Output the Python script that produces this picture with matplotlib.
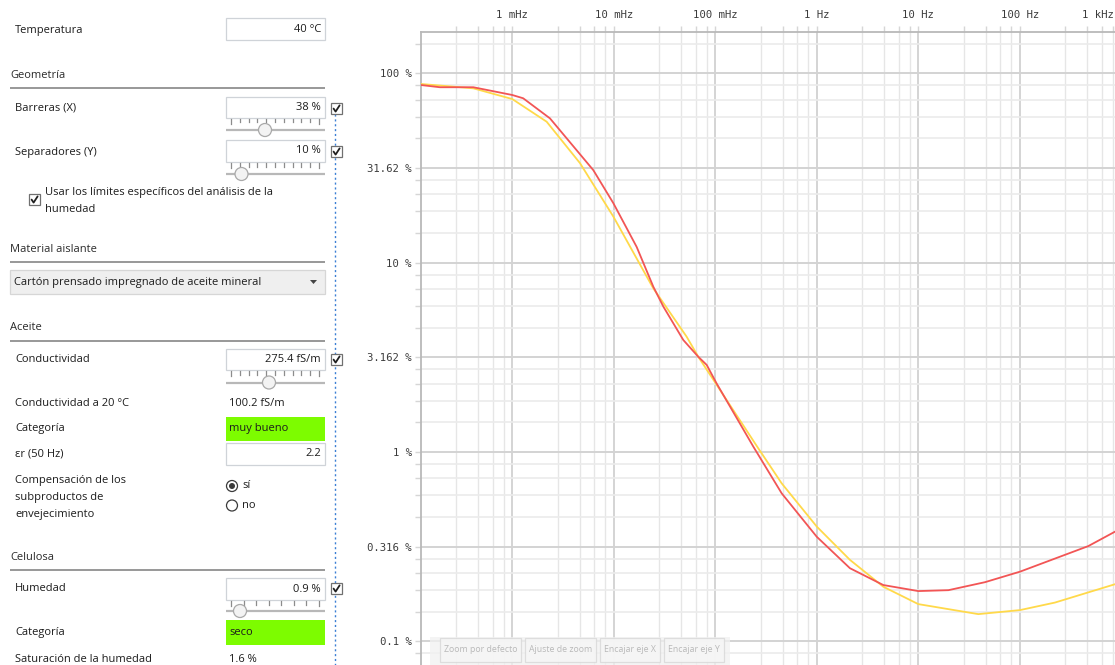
import numpy as np
import matplotlib
matplotlib.use("Agg")
import matplotlib.pyplot as plt
from matplotlib.patches import Rectangle, Circle, Polygon
from matplotlib.ticker import FixedLocator, FixedFormatter, NullFormatter

W, H = 1115, 665

# ---- dissipation factor curves: frequency (Hz) vs. value (%) ----
freq_measured = [1.26e-4, 1.94e-4, 4.13e-4, 1.0e-3, 1.28e-3, 2.35e-3, 6.28e-3, 9.9e-3,
                 1.68e-2, 2.45e-2, 3.08e-2, 4.84e-2, 6.8e-2, 8.23e-2, 0.103, 0.237,
                 0.451, 1.0, 2.12, 4.52, 10.0, 19.8, 45.4, 100.5, 473.0, 867.0]
pct_measured = [86.7, 84.4, 84.4, 76.8, 73.8, 57.8, 30.8, 20.6,
                12.1, 7.46, 5.85, 3.90, 3.18, 2.88, 2.30, 1.066,
                0.604, 0.356, 0.243, 0.198, 0.184, 0.186, 0.205, 0.233, 0.318, 0.379]

freq_model = [1.26e-4, 4.13e-4, 1.0e-3, 2.18e-3, 4.65e-3, 9.9e-3, 2.45e-2, 5.22e-2,
              6.8e-2, 0.265, 0.451, 1.0, 2.12, 4.52, 10.0, 39.0, 100.5, 222.0, 867.0]
pct_model = [87.8, 83.3, 73.1, 55.5, 33.5, 17.5, 7.31, 4.06,
             3.18, 1.045, 0.682, 0.403, 0.269, 0.194, 0.157, 0.139, 0.146, 0.160, 0.200]

freq_ticks = [1e-3, 1e-2, 1e-1, 1.0, 10.0, 100.0, 1000.0]
freq_labels = ["1 mHz", "10 mHz", "100 mHz", "1 Hz", "10 Hz", "100 Hz", "1 kHz"]
pct_ticks = [0.1, 0.3162, 1.0, 3.162, 10.0, 31.62, 100.0]
pct_labels = ["0.1 %", "0.316 %", "1 %", "3.162 %", "10 %", "31.62 %", "100 %"]

RED = "#f25555"
YELLOW = "#ffd94a"
UI_FONT = "Open Sans"
MONO = "DejaVu Sans Mono"
FS = 8.0
TXT = "#1c1c1c"
TICK_TXT = "#3c3c3c"

fig = plt.figure(figsize=(W / 100, H / 100), dpi=100)
fig.patch.set_facecolor("white")

# ---- chart area (extends past the right and bottom edges of the canvas) ----
x_left, x_right = 421.0, 1215.0
y_top, y_bot = 31.7, 760.0
ax = fig.add_axes([x_left / W, 1 - y_bot / H, (x_right - x_left) / W, (y_bot - y_top) / H])
dec_px, f1m_px = 101.5, 512.3
yd_px, p100_px = 189.3, 73.3
ax.set_xscale("log")
ax.set_yscale("log")
ax.set_xlim(10 ** (-3 + (x_left - f1m_px) / dec_px), 10 ** (-3 + (x_right - f1m_px) / dec_px))
ax.set_ylim(10 ** (2 - (y_bot - p100_px) / yd_px), 10 ** (2 + (p100_px - y_top) / yd_px))

ax.plot(freq_model, pct_model, color=YELLOW, lw=1.3, zorder=3, solid_joinstyle="round")
ax.plot(freq_measured, pct_measured, color=RED, lw=1.3, zorder=4, solid_joinstyle="round")

# major ticks at decades (x) and half decades (y); minor ticks split each step into 5 linear parts
x_major = [10.0 ** k for k in range(-4, 5)]
x_minor = [d * m for d in x_major[:-1] for m in (2.8, 4.6, 6.4, 8.2)]
y_major = [10.0 ** (k / 2) for k in range(-4, 6)]
y_minor = [a + i * (b - a) / 5 for a, b in zip(y_major[:-1], y_major[1:]) for i in range(1, 5)]

# the last frequency label sits at the canvas edge, so it is drawn separately below
ax.xaxis.set_major_locator(FixedLocator(freq_ticks))
ax.xaxis.set_major_formatter(FixedFormatter(freq_labels[:-1] + [""]))
ax.xaxis.set_minor_locator(FixedLocator(x_minor))
ax.xaxis.set_minor_formatter(NullFormatter())
ax.yaxis.set_major_locator(FixedLocator(pct_ticks))
ax.yaxis.set_major_formatter(FixedFormatter(pct_labels))
ax.yaxis.set_minor_locator(FixedLocator(y_minor))
ax.yaxis.set_minor_formatter(NullFormatter())
ax.xaxis.set_ticks_position("top")
ax.xaxis.set_label_position("top")

ax.grid(which="major", axis="x", color="#c9c9c9", lw=1.1)
ax.grid(which="minor", axis="x", color="#e6e6e6", lw=1.0)
ax.grid(which="major", axis="y", color="#d3d3d3", lw=1.4)
ax.grid(which="minor", axis="y", color="#ebebeb", lw=1.2)
ax.set_axisbelow(True)
ax.tick_params(which="both", direction="out", length=4, color="#d6d6d6", width=1.0)
ax.tick_params(axis="x", which="major", pad=4.7, labelsize=7.7, labelcolor=TICK_TXT)
ax.tick_params(axis="y", which="major", pad=2.7, labelsize=7.7, labelcolor=TICK_TXT)
for lab in ax.get_xticklabels() + ax.get_yticklabels():
    lab.set_family(MONO)
ax.annotate(freq_labels[-1], xy=(freq_ticks[-1], 1.0), xycoords=("data", "axes fraction"),
            xytext=(-5, 12), textcoords="offset points", ha="right", va="center",
            fontsize=7.7, color=TICK_TXT, family=MONO, annotation_clip=False)
for side in ("right", "bottom"):
    ax.spines[side].set_visible(False)
for side in ("left", "top"):
    ax.spines[side].set_color("#b9b9b9")
    ax.spines[side].set_linewidth(1.3)

# ---- settings panel drawn in pixel coordinates ----
ov = fig.add_axes([0, 0, 1, 1], zorder=10)
ov.set_xlim(0, W)
ov.set_ylim(H, 0)
ov.axis("off")
ov.patch.set_visible(False)


def label(x, y, s, size=FS, color=TXT, **kw):
    ov.text(x, y, s, ha=kw.pop("ha", "left"), va="center", fontsize=size, color=color,
            family=UI_FONT, **kw)


def header(y, s, line_y):
    label(10, y, s, color="#2a2a2a")
    ov.plot([10, 325], [line_y, line_y], color="#7c7c7c", lw=1.1, solid_capstyle="butt")


def textbox(y0, y1, value, x0=226, x1=325):
    ov.add_patch(Rectangle((x0, y0), x1 - x0, y1 - y0, fc="white", ec="#cfd3d8", lw=0.9))
    label(x1 - 4, (y0 + y1) / 2, value, ha="right")


def greenbox(y0, y1, value, x0=226, x1=325):
    ov.add_patch(Rectangle((x0, y0), x1 - x0, y1 - y0, fc="#7dfc00", ec="none"))
    label(x0 + 3, (y0 + y1) / 2, value)


def checkbox(x, y):
    ov.add_patch(Rectangle((x, y), 11, 11, fc="white", ec="#707070", lw=0.9, zorder=4))
    ov.plot([x + 2.6, x + 4.6, x + 8.6], [y + 5.6, y + 8.6, y + 2.4], color="#202020",
            lw=1.3, zorder=5, solid_capstyle="round")


def slider(tick_y, track_y, thumb_x, n, x0=226, x1=325):
    xs = np.linspace(x0 + 5, x1 - 6, n)
    for i, xt in enumerate(xs):
        tall = 5 if i in (0, n - 1) else 3.5
        ov.plot([xt, xt], [tick_y, tick_y + tall], color="#8c8c8c", lw=0.9)
    ov.plot([x0, x1], [track_y, track_y], color="#b8b8b8", lw=1.6, solid_capstyle="butt")
    ov.add_patch(Circle((thumb_x, track_y), 6.5, fc="#f3f3f3", ec="#a9a9a9", lw=0.9, zorder=4))


def radio(x, y, selected):
    ov.add_patch(Circle((x, y), 5.5, fc="white", ec="#3a3a3a", lw=0.9))
    if selected:
        ov.add_patch(Circle((x, y), 3.0, fc="#3a3a3a", ec="none"))


# link line joining the enabled parameters
ov.plot([335, 335], [114, 665], color="#3b7fd4", lw=1.0, ls=(0, (1.5, 2.0)))

label(15, 30, "Temperatura")
textbox(18, 40, "40 °C")

header(76, "Geometría", 88)
label(15, 108, "Barreras (X)")
textbox(96.5, 118, "38 %")
checkbox(331, 103)
slider(118.5, 130, 265, 11)
label(15, 152, "Separadores (Y)")
textbox(140, 161.5, "10 %")
checkbox(331, 146)
slider(163, 174, 241.5, 11)
checkbox(29, 194)
label(45, 192, "Usar los límites específicos del análisis de la")
label(45, 209, "humedad")

header(250, "Material aislante", 262)
ov.add_patch(Rectangle((10, 270), 315, 23.5, fc="#efefef", ec="#d6d6d6", lw=0.9))
label(14, 282, "Cartón prensado impregnado de aceite mineral")
ov.add_patch(Polygon([[310, 280], [317, 280], [313.5, 284]], closed=True, fc="#444444", ec="none"))

header(328, "Aceite", 340.5)
label(15, 359, "Conductividad")
textbox(348.5, 370, "275.4 fS/m")
checkbox(331, 354)
slider(371, 382.5, 269, 11)
label(15, 403, "Conductividad a 20 °C")
label(229, 403, "100.2 fS/m")
label(15, 429, "Categoría")
greenbox(417, 440.5, "muy bueno")
label(15, 454, "εr (50 Hz)")
textbox(443, 465, "2.2")
label(15, 481, "Compensación de los")
label(15, 497.5, "subproductos de")
label(15, 514, "envejecimiento")
radio(232, 486, True)
label(242, 486, "sí")
radio(232, 505.5, False)
label(242, 505.5, "no")

header(557, "Celulosa", 570)
label(15, 588.5, "Humedad")
textbox(578, 600, "0.9 %")
checkbox(331, 583)
slider(601, 611, 240, 8)
label(15, 633, "Categoría")
greenbox(620, 645, "seco")
label(15, 659.5, "Saturación de la humedad")
label(229, 659.5, "1.6 %")

# zoom toolbar floating over the chart
ov.add_patch(Rectangle((430, 636.5), 300, 40, fc="#f1f1f1", ec="none", alpha=0.75, zorder=6))
buttons = [("Zoom por defecto", 440, 520.5), ("Ajuste de zoom", 525, 595.5),
           ("Encajar eje X", 600, 660), ("Encajar eje Y", 663.5, 723.5)]
for text, bx0, bx1 in buttons:
    ov.add_patch(Rectangle((bx0, 638), bx1 - bx0, 23.5, fc="#f6f6f6", ec="#d9d9d9",
                           lw=0.9, alpha=0.85, zorder=7))
    ov.text((bx0 + bx1) / 2, 650, text, ha="center", va="center", fontsize=6.3,
            color="#b9b9b9", family=UI_FONT, zorder=8)

fig.savefig("out.png", dpi=100, facecolor="white")
